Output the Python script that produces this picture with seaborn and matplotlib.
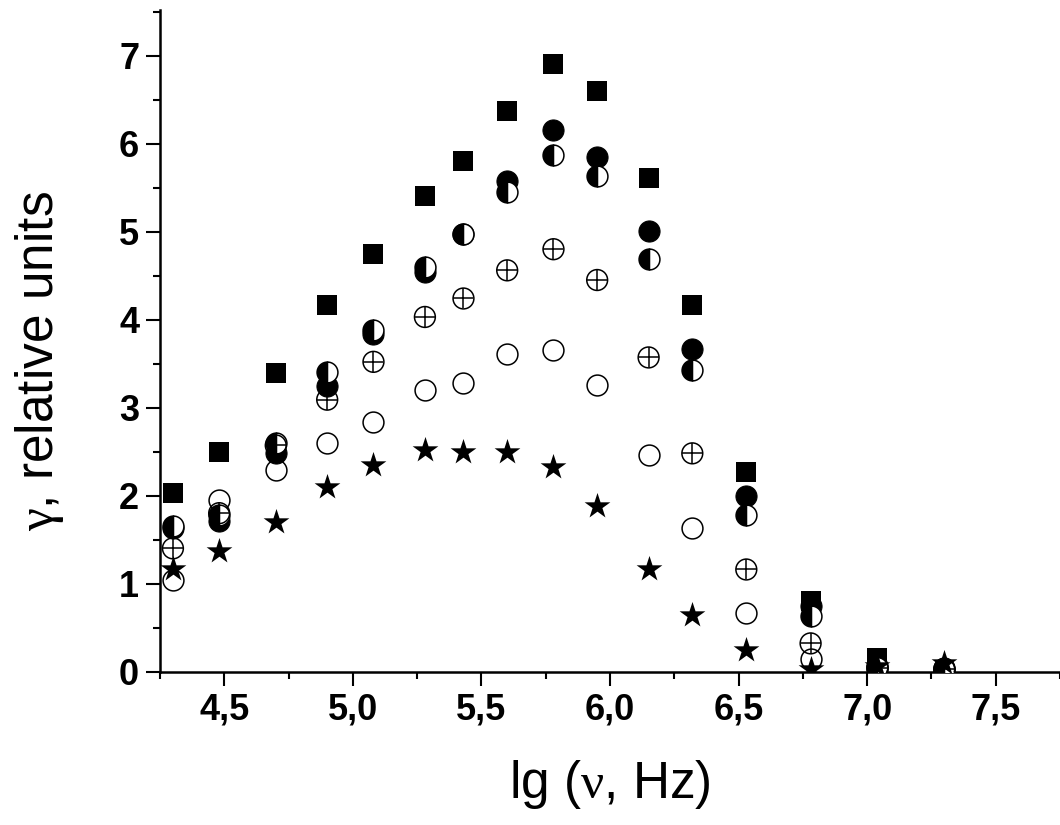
import matplotlib
matplotlib.use("Agg")
import matplotlib.pyplot as plt
from matplotlib.ticker import MultipleLocator
import pandas as pd
import seaborn as sns

# lg of measuring frequency (Hz)
lg_nu = [4.30, 4.48, 4.70, 4.90, 5.08, 5.28, 5.43, 5.60,
         5.78, 5.95, 6.15, 6.32, 6.53, 6.78, 7.04, 7.30]

# gamma, relative units, one list per marker type
gamma_square = [2.03, 2.49, 3.39, 4.17, 4.75, 5.41, 5.80, 6.37,
                6.90, 6.60, 5.61, 4.17, 2.27, 0.80, 0.15]
gamma_filled = [1.63, 1.71, 2.48, 3.24, 3.84, 4.54, 4.97, 5.57,
                6.16, 5.85, 5.01, 3.67, 1.99, 0.74, 0.06, 0.04]
gamma_half = [1.65, 1.78, 2.60, 3.41, 3.88, 4.60, 4.97, 5.45,
              5.87, 5.63, 4.69, 3.43, 1.78, 0.63, 0.05, 0.03]
gamma_cross = [1.40, 1.80, 2.57, 3.09, 3.52, 4.03, 4.24, 4.56,
               4.80, 4.45, 3.57, 2.48, 1.16, 0.32, 0.04, 0.03]
gamma_open = [1.04, 1.95, 2.29, 2.60, 2.84, 3.20, 3.28, 3.61,
              3.66, 3.26, 2.46, 1.63, 0.67, 0.14, 0.03, 0.02]
gamma_star = [1.17, 1.37, 1.70, 2.10, 2.35, 2.52, 2.49, 2.50,
              2.33, 1.88, 1.17, 0.64, 0.25, 0.03, 0.06, 0.10]

x_ticks = [4.5, 5.0, 5.5, 6.0, 6.5, 7.0, 7.5]
x_tick_labels = ["4,5", "5,0", "5,5", "6,0", "6,5", "7,0", "7,5"]
y_ticks = [0, 1, 2, 3, 4, 5, 6, 7]
y_tick_labels = ["0", "1", "2", "3", "4", "5", "6", "7"]

sns.set_theme(style="ticks")
plt.rcParams.update(
    {
        "font.family": ["Liberation Sans", "DejaVu Sans"],
        # greek letters upright and serif, as in the original figure
        "mathtext.fontset": "custom",
        "mathtext.rm": "Liberation Serif",
        "mathtext.default": "rm",
        "axes.linewidth": 1.8,
        "axes.edgecolor": "black",
        "axes.labelcolor": "black",
        "text.color": "black",
        "xtick.color": "black",
        "ytick.color": "black",
    }
)

df_sq = pd.DataFrame({"x": lg_nu[: len(gamma_square)], "y": gamma_square})
df_fill = pd.DataFrame({"x": lg_nu, "y": gamma_filled})
df_half = pd.DataFrame({"x": lg_nu, "y": gamma_half})
df_cross = pd.DataFrame({"x": lg_nu, "y": gamma_cross})
df_open = pd.DataFrame({"x": lg_nu, "y": gamma_open})
df_star = pd.DataFrame({"x": lg_nu, "y": gamma_star})

fig = plt.figure(figsize=(10.6, 8.25), dpi=100)
ax = fig.add_axes([0.151, 0.186, 0.849, 0.802])

sns.scatterplot(data=df_sq, x="x", y="y", marker="s", s=190, color="black",
                edgecolor="black", linewidth=0, ax=ax, zorder=3)
sns.scatterplot(data=df_open, x="x", y="y", marker="o", s=225, facecolor="white",
                edgecolor="black", linewidth=1.1, ax=ax, zorder=4)
sns.scatterplot(data=df_fill, x="x", y="y", marker="o", s=230, color="black",
                edgecolor="black", linewidth=0.8, ax=ax, zorder=5)
sns.lineplot(data=df_half, x="x", y="y", marker="o", linestyle="", markersize=15,
             fillstyle="left", color="black", markerfacecolor="black",
             markerfacecoloralt="white", markeredgecolor="black",
             markeredgewidth=1.1, estimator=None, ax=ax, zorder=6)
# crossed circle: open ring with a plus inside
sns.scatterplot(data=df_cross, x="x", y="y", marker="o", s=225, facecolor="none",
                edgecolor="black", linewidth=1.1, ax=ax, zorder=7)
sns.scatterplot(data=df_cross, x="x", y="y", marker="+", s=210, color="black",
                linewidth=1.1, ax=ax, zorder=7)
sns.scatterplot(data=df_star, x="x", y="y", marker="*", s=380, color="black",
                edgecolor="black", linewidth=0, ax=ax, zorder=8)

ax.set_xlim(4.25, 7.75)
ax.set_ylim(0, 7.52)
ax.set_xticks(x_ticks, labels=x_tick_labels, fontweight="bold")
ax.set_yticks(y_ticks, labels=y_tick_labels, fontweight="bold")
ax.xaxis.set_minor_locator(MultipleLocator(0.25))
ax.yaxis.set_minor_locator(MultipleLocator(0.5))
ax.tick_params(which="major", length=10, width=1.5, labelsize=26, pad=5)
ax.tick_params(which="minor", length=5, width=1.5)
sns.despine(ax=ax)

ax.set_xlabel(r"lg ($\nu$, Hz)", fontsize=37)
ax.set_ylabel(r"$\gamma$, relative units", fontsize=37)
ax.xaxis.set_label_coords(0.5, -0.13)
ax.yaxis.set_label_coords(-0.105, 0.47)

fig.savefig("out.png", dpi=100)
